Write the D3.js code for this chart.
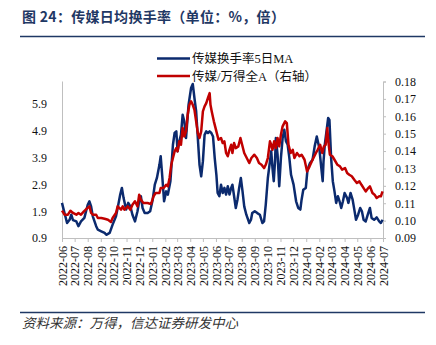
<!DOCTYPE html>
<html><head><meta charset="utf-8">
<script src="https://cdn.jsdelivr.net/npm/d3@7"></script>
<style>
html,body{margin:0;padding:0;background:#fff;}
svg{display:block;}
</style></head>
<body>
<script>
// ---- data ----
const title = "图 24：传媒日均换手率（单位：%，倍）";
const source = "资料来源：万得，信达证券研发中心";
const seriesNames = ["传媒换手率5日MA", "传媒/万得全A（右轴）"];
const leftTicks = [0.9, 1.9, 2.9, 3.9, 4.9, 5.9];
const rightTicks = [0.09, 0.10, 0.11, 0.12, 0.13, 0.14, 0.15, 0.16, 0.17, 0.18];

const turnoverDates = ["2022-06-01","2022-06-03","2022-06-08","2022-06-13","2022-06-19","2022-06-23","2022-06-27","2022-07-05","2022-07-10","2022-07-16","2022-07-24","2022-08-01","2022-08-05","2022-08-09","2022-08-13","2022-08-21","2022-08-25","2022-09-02","2022-09-10","2022-09-14","2022-09-22","2022-09-29","2022-10-07","2022-10-11","2022-10-17","2022-10-21","2022-10-25","2022-10-31","2022-11-05","2022-11-10","2022-11-15","2022-11-21","2022-11-27","2022-12-01","2022-12-05","2022-12-09","2022-12-14","2022-12-21","2022-12-27","2023-01-02","2023-01-07","2023-01-12","2023-01-18","2023-01-21","2023-01-25","2023-01-29","2023-02-03","2023-02-07","2023-02-13","2023-02-19","2023-02-23","2023-02-27","2023-03-02","2023-03-06","2023-03-10","2023-03-14","2023-03-18","2023-03-22","2023-03-28","2023-04-03","2023-04-07","2023-04-11","2023-04-15","2023-04-19","2023-04-23","2023-04-27","2023-05-01","2023-05-05","2023-05-09","2023-05-13","2023-05-17","2023-05-21","2023-05-25","2023-05-29","2023-06-02","2023-06-05","2023-06-09","2023-06-13","2023-06-17","2023-06-21","2023-06-25","2023-06-29","2023-07-03","2023-07-07","2023-07-10","2023-07-14","2023-07-18","2023-07-22","2023-07-26","2023-07-30","2023-08-03","2023-08-07","2023-08-12","2023-08-19","2023-08-23","2023-08-26","2023-09-01","2023-09-07","2023-09-13","2023-09-19","2023-09-23","2023-09-27","2023-10-02","2023-10-07","2023-10-10","2023-10-13","2023-10-16","2023-10-19","2023-10-21","2023-10-25","2023-10-29","2023-11-02","2023-11-06","2023-11-10","2023-11-14","2023-11-18","2023-11-22","2023-11-26","2023-12-02","2023-12-08","2023-12-13","2023-12-18","2023-12-21","2023-12-25","2023-12-31","2024-01-04","2024-01-10","2024-01-16","2024-01-21","2024-01-26","2024-02-01","2024-02-05","2024-02-09","2024-02-11","2024-02-14","2024-02-18","2024-02-22","2024-02-25","2024-02-29","2024-03-04","2024-03-08","2024-03-12","2024-03-16","2024-03-20","2024-03-24","2024-03-28","2024-04-01","2024-04-07","2024-04-10","2024-04-15","2024-04-20","2024-04-24","2024-04-28","2024-05-03","2024-05-08","2024-05-12","2024-05-16","2024-05-21","2024-05-27","2024-05-31","2024-06-04","2024-06-10","2024-06-16","2024-06-22","2024-06-26","2024-06-30"];
const turnoverValues = [2.21,2.08,1.77,1.46,1.58,1.77,1.57,1.52,1.34,1.52,1.65,2.14,2.27,2.08,1.71,1.34,1.21,1.15,1.09,1.02,1.09,1.40,1.71,2.02,2.52,2.77,2.39,1.96,2.21,2.08,1.77,1.52,1.90,2.27,2.46,2.02,1.83,1.83,1.90,2.33,2.89,3.14,3.63,3.95,3.14,2.27,2.64,2.52,3.02,4.38,4.82,4.88,4.14,4.51,4.75,5.50,5.25,4.63,5.87,6.50,6.65,6.12,5.63,4.63,3.63,3.20,3.76,4.75,4.88,4.82,4.88,4.82,4.69,3.89,3.26,2.58,2.46,2.89,2.58,2.77,2.52,2.83,2.52,2.77,2.89,2.46,2.02,2.33,2.77,3.14,2.64,2.08,1.77,1.46,1.58,1.83,1.90,1.83,1.77,1.46,1.52,2.14,3.14,3.76,4.14,3.51,3.02,3.76,4.63,4.01,2.83,3.89,4.63,4.94,4.51,4.38,3.89,3.26,2.89,2.27,2.02,1.96,2.33,2.70,2.77,3.45,3.70,3.82,4.32,4.69,4.26,3.63,3.02,3.76,4.38,4.88,5.38,5.31,3.89,3.02,2.64,2.21,2.46,2.27,2.02,2.27,2.58,2.39,2.21,2.58,2.33,1.96,1.58,1.77,2.02,1.90,1.58,1.52,1.83,2.02,1.65,1.58,1.67,1.52,1.46,1.58];

const ratioDates = ["2022-06-01","2022-06-07","2022-06-15","2022-06-21","2022-06-27","2022-07-05","2022-07-10","2022-07-16","2022-07-23","2022-07-31","2022-08-05","2022-08-09","2022-08-13","2022-08-21","2022-08-25","2022-09-02","2022-09-10","2022-09-18","2022-09-25","2022-09-29","2022-10-07","2022-10-11","2022-10-19","2022-10-23","2022-10-27","2022-11-04","2022-11-10","2022-11-15","2022-11-21","2022-11-27","2022-12-01","2022-12-05","2022-12-11","2022-12-21","2022-12-29","2023-01-04","2023-01-09","2023-01-18","2023-01-21","2023-01-28","2023-02-03","2023-02-07","2023-02-11","2023-02-15","2023-02-19","2023-02-23","2023-02-27","2023-03-02","2023-03-06","2023-03-10","2023-03-14","2023-03-18","2023-03-22","2023-03-26","2023-03-30","2023-04-03","2023-04-07","2023-04-11","2023-04-15","2023-04-19","2023-04-23","2023-04-27","2023-05-01","2023-05-05","2023-05-09","2023-05-13","2023-05-17","2023-05-19","2023-05-22","2023-05-27","2023-06-02","2023-06-07","2023-06-13","2023-06-17","2023-06-21","2023-06-25","2023-06-29","2023-07-03","2023-07-07","2023-07-10","2023-07-14","2023-07-18","2023-07-24","2023-07-29","2023-08-01","2023-08-07","2023-08-13","2023-08-19","2023-08-24","2023-08-31","2023-09-06","2023-09-11","2023-09-17","2023-09-23","2023-09-27","2023-10-02","2023-10-07","2023-10-10","2023-10-13","2023-10-17","2023-10-21","2023-10-25","2023-10-29","2023-11-02","2023-11-06","2023-11-12","2023-11-16","2023-11-20","2023-11-25","2023-11-30","2023-12-04","2023-12-10","2023-12-16","2023-12-21","2023-12-28","2024-01-03","2024-01-09","2024-01-16","2024-01-24","2024-01-28","2024-02-03","2024-02-08","2024-02-12","2024-02-16","2024-02-20","2024-02-22","2024-02-26","2024-03-03","2024-03-08","2024-03-15","2024-03-21","2024-03-26","2024-04-02","2024-04-07","2024-04-12","2024-04-18","2024-04-24","2024-04-30","2024-05-06","2024-05-11","2024-05-16","2024-05-21","2024-05-27","2024-05-31","2024-06-06","2024-06-11","2024-06-16","2024-06-22","2024-06-26","2024-06-30"];
const ratioValues = [0.1057,0.1034,0.1034,0.1057,0.1044,0.1034,0.1044,0.1034,0.1053,0.1072,0.1082,0.1044,0.1034,0.1034,0.1015,0.1015,0.1011,0.1005,0.0992,0.1015,0.1044,0.1082,0.1063,0.1082,0.1063,0.1082,0.1063,0.1091,0.1111,0.1082,0.1149,0.1120,0.1101,0.1101,0.1095,0.1140,0.1159,0.1159,0.1187,0.1187,0.1206,0.1197,0.1245,0.1321,0.1360,0.1398,0.1417,0.1398,0.1456,0.1436,0.1532,0.1484,0.1513,0.1609,0.1666,0.1686,0.1666,0.1637,0.1571,0.1503,0.1475,0.1513,0.1628,0.1657,0.1676,0.1705,0.1733,0.1666,0.1628,0.1571,0.1513,0.1465,0.1475,0.1446,0.1456,0.1389,0.1370,0.1407,0.1436,0.1389,0.1446,0.1417,0.1427,0.1475,0.1446,0.1389,0.1360,0.1331,0.1360,0.1379,0.1360,0.1331,0.1321,0.1302,0.1321,0.1360,0.1456,0.1436,0.1407,0.1456,0.1417,0.1475,0.1427,0.1494,0.1542,0.1571,0.1561,0.1436,0.1389,0.1407,0.1360,0.1389,0.1370,0.1379,0.1350,0.1283,0.1312,0.1350,0.1389,0.1407,0.1436,0.1389,0.1427,0.1436,0.1532,0.1465,0.1379,0.1370,0.1350,0.1321,0.1312,0.1293,0.1302,0.1274,0.1264,0.1255,0.1235,0.1216,0.1226,0.1206,0.1187,0.1168,0.1187,0.1197,0.1159,0.1149,0.1130,0.1140,0.1140,0.1168];

// ---- chart ----
const W = 436, H = 345;
const navy = "#1f3864";
const blue = "#0b2a6e";
const red = "#c00000";
const serif = "'Liberation Serif','Times New Roman','Noto Sans CJK SC',serif";
const cjk = "'Noto Sans CJK SC','Noto Sans',sans-serif";

const parse = d3.timeParse("%Y-%m-%d");
const turnover = turnoverDates.map((d, i) => ({date: parse(d), value: turnoverValues[i]}));
const ratio = ratioDates.map((d, i) => ({date: parse(d), value: ratioValues[i]}));

const svg = d3.select("body").append("svg").attr("width", W).attr("height", H);

// title + rules
svg.append("text").attr("x", 22).attr("y", 22)
  .attr("font-family", cjk).attr("font-weight", "bold").attr("font-size", 14)
  .attr("letter-spacing", 0.3)
  .attr("fill", navy).text(title);
svg.append("line").attr("x1", 20).attr("x2", 425).attr("y1", 36.5).attr("y2", 36.5)
  .attr("stroke", navy).attr("stroke-width", 1.5);
svg.append("line").attr("x1", 20).attr("x2", 425).attr("y1", 312.5).attr("y2", 312.5)
  .attr("stroke", navy).attr("stroke-width", 1.5);
svg.append("text").attr("x", 22).attr("y", 328)
  .attr("font-family", cjk).attr("font-style", "italic").attr("font-size", 13.5)
  .attr("fill", "#333").text(source);

// scales
const x = d3.scaleTime().domain([parse("2022-06-01"), parse("2024-07-01")]).range([62, 383]);
const yL = d3.scaleLinear().domain([0.9, 6.76]).range([238, 81]);
const yR = d3.scaleLinear().domain([0.09, 0.18]).range([238, 81.5]);

const axisColor = "#bfbfbf";

// left axis
const gL = svg.append("g").attr("transform", "translate(62,0)")
  .call(d3.axisLeft(yL).tickValues(leftTicks).tickSize(0).tickPadding(15).tickFormat(d3.format(".1f")));
gL.select(".domain").attr("stroke", axisColor);
gL.selectAll("text").attr("font-family", serif).attr("font-size", 12).attr("fill", "#111");

// right axis
const gR = svg.append("g").attr("transform", "translate(383,0)")
  .call(d3.axisRight(yR).tickValues(rightTicks).tickSize(3).tickPadding(9).tickFormat(d3.format(".2f")));
gR.select(".domain").attr("stroke", axisColor);
gR.selectAll("line").attr("stroke", axisColor);
gR.selectAll("text").attr("font-family", serif).attr("font-size", 12).attr("fill", "#111");

// bottom axis
const gX = svg.append("g").attr("transform", "translate(0,238)")
  .call(d3.axisBottom(x).ticks(d3.timeMonth.every(1)).tickSize(4).tickSizeOuter(0).tickFormat(d3.timeFormat("%Y-%m")));
gX.select(".domain").attr("stroke", axisColor);
gX.selectAll("line").attr("stroke", axisColor);
gX.selectAll("text")
  .attr("font-family", serif).attr("font-size", 12).attr("fill", "#111")
  .attr("y", 0).attr("x", -8).attr("dy", "0.35em")
  .attr("transform", "rotate(-90)").style("text-anchor", "end");

// lines
const lineL = d3.line().x(d => x(d.date)).y(d => yL(d.value));
const lineR = d3.line().x(d => x(d.date)).y(d => yR(d.value));
svg.append("path").datum(turnover).attr("d", lineL)
  .attr("fill", "none").attr("stroke", blue).attr("stroke-width", 2.5).attr("stroke-linejoin", "round");
svg.append("path").datum(ratio).attr("d", lineR)
  .attr("fill", "none").attr("stroke", red).attr("stroke-width", 2.5).attr("stroke-linejoin", "round");

// legend
const legend = svg.append("g");
[blue, red].forEach((c, i) => {
  const y = 58.5 + i * 17.5;
  legend.append("line").attr("x1", 157).attr("x2", 190).attr("y1", y).attr("y2", y)
    .attr("stroke", c).attr("stroke-width", 2.5);
  legend.append("text").attr("x", 192).attr("y", y).attr("dy", "0.36em")
    .attr("font-family", serif).attr("font-size", 12.5).attr("fill", "#111")
    .text(seriesNames[i]);
});
</script>
</body></html>
